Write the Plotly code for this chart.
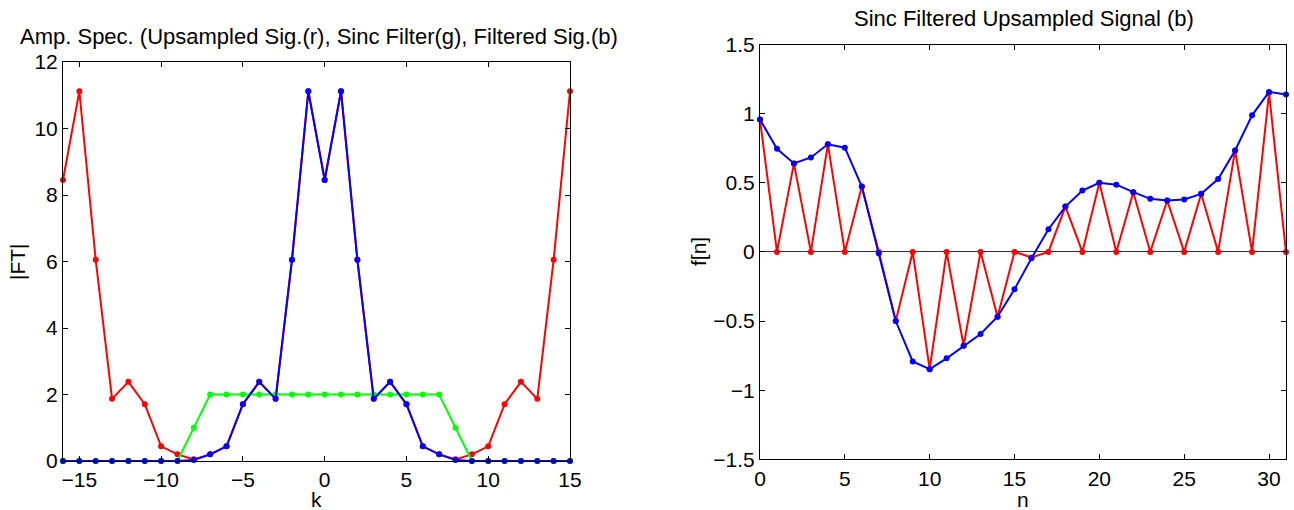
import plotly.graph_objects as go

# ---------------- Data ----------------
k = list(range(-16, 16))
upsampled_spec = [8.45, 11.12, 6.05, 1.87, 2.38, 1.71, 0.44, 0.2, 0.05, 0.2, 0.44, 1.71, 2.38, 1.87, 6.05, 11.12,
                  8.45, 11.12, 6.05, 1.87, 2.38, 1.71, 0.44, 0.2, 0.05, 0.2, 0.44, 1.71, 2.38, 1.87, 6.05, 11.12]
sinc_filter = [0, 0, 0, 0, 0, 0, 0, 0, 1, 2, 2, 2, 2, 2, 2, 2,
               2, 2, 2, 2, 2, 2, 2, 2, 1, 0, 0, 0, 0, 0, 0, 0]
filtered_spec = [0, 0, 0, 0, 0, 0, 0, 0, 0.03, 0.2, 0.44, 1.71, 2.38, 1.87, 6.05, 11.12,
                 8.45, 11.12, 6.05, 1.87, 2.38, 1.71, 0.44, 0.2, 0.03, 0, 0, 0, 0, 0, 0, 0]

n = list(range(0, 32))
upsampled_sig = [0.957, 0, 0.64, 0, 0.778, 0, 0.473, 0, -0.5, 0, -0.848, 0, -0.679, 0, -0.469, 0,
                 -0.04, 0, 0.328, 0, 0.5, 0, 0.432, 0, 0.372, 0, 0.42, 0, 0.734, 0, 1.15, 0]
filtered_sig = [0.957, 0.746, 0.64, 0.683, 0.778, 0.754, 0.473, -0.01, -0.5, -0.792, -0.848, -0.77,
                -0.679, -0.594, -0.469, -0.27, -0.046, 0.164, 0.328, 0.444, 0.5, 0.486, 0.432, 0.384,
                0.372, 0.379, 0.42, 0.527, 0.734, 0.988, 1.157, 1.138]

left_xticks = [-15, -10, -5, 0, 5, 10, 15]
left_xticklabels = ["\u221215", "\u221210", "\u22125", "0", "5", "10", "15"]
left_yticks = [0, 2, 4, 6, 8, 10, 12]
right_xticks = [0, 5, 10, 15, 20, 25, 30]
right_yticks = [-1.5, -1, -0.5, 0, 0.5, 1, 1.5]
right_yticklabels = ["\u22121.5", "\u22121", "\u22120.5", "0", "0.5", "1", "1.5"]

FONT = "Liberation Sans, Arial, Helvetica, sans-serif"
FS = 21
FS_TITLE = 22

fig = go.Figure()

def add_line(x, y, color, xa, ya):
    fig.add_trace(go.Scatter(x=x, y=y, mode="lines+markers", xaxis=xa, yaxis=ya,
                             line=dict(color=color, width=2),
                             marker=dict(color=color, size=6), showlegend=False,
                             cliponaxis=False, hoverinfo="skip"))

add_line(k, upsampled_spec, "#ff0000", "x", "y")
add_line(k, sinc_filter, "#00ff00", "x", "y")
add_line(k, filtered_spec, "#0000ff", "x", "y")

add_line(n, upsampled_sig, "#ff0000", "x2", "y2")
add_line(n, filtered_sig, "#0000ff", "x2", "y2")

W, H = 1294, 510
axis_common = dict(showline=True, linecolor="black", linewidth=1, mirror="ticks",
                   ticks="inside", ticklen=5, tickcolor="black", showgrid=False,
                   automargin=False,
                   tickfont=dict(family=FONT, size=FS, color="black"))

def ann(text, x, y, angle=0, size=FS):
    return dict(text=text, x=x / W, y=1 - y / H, xref="paper", yref="paper", showarrow=False,
                textangle=angle, xanchor="center", yanchor="middle",
                font=dict(family=FONT, size=size, color="black"))

def bottom_label(text, x):
    return dict(text=text, x=x / W, y=0, xref="paper", yref="paper", showarrow=False,
                xanchor="center", yanchor="bottom", height=18, valign="middle",
                font=dict(family=FONT, size=FS, color="black"))

fig.update_layout(
    width=W, height=H,
    margin=dict(l=0, r=0, t=0, b=0, pad=0, autoexpand=False),
    paper_bgcolor="white", plot_bgcolor="white",
    font=dict(family=FONT, size=FS, color="black"),
    xaxis=dict(domain=[63 / W, 570 / W], range=[-16, 15], tickvals=left_xticks,
               ticktext=left_xticklabels, anchor="y", zeroline=False, **axis_common),
    yaxis=dict(domain=[(H - 461) / H, (H - 62) / H], range=[0, 12], tickvals=left_yticks,
               anchor="x", zeroline=False, **axis_common),
    xaxis2=dict(domain=[760 / W, 1286 / W], range=[0, 31], tickvals=right_xticks,
                anchor="y2", zeroline=False, **axis_common),
    yaxis2=dict(domain=[(H - 459.3) / H, (H - 44.5) / H], range=[-1.5, 1.5], tickvals=right_yticks,
                ticktext=right_yticklabels, anchor="x2", zeroline=True, zerolinecolor="#333333",
                zerolinewidth=1, **axis_common),
    annotations=[
        ann("Amp. Spec. (Upsampled Sig.(r), Sinc Filter(g), Filtered Sig.(b)", 318.5, 37, size=FS_TITLE),
        ann("Sinc Filtered Upsampled Signal (b)", 1023.5, 19, size=FS_TITLE),
        bottom_label("k", 316.5),
        bottom_label("n", 1023),
        ann("|FT|", 17, 262, angle=-90),
        ann("f[n]", 698, 252, angle=-90),
    ],
)

fig.write_html("out.html", config={"displayModeBar": False},
               post_script="document.body.style.margin='0';document.body.style.padding='0';")
